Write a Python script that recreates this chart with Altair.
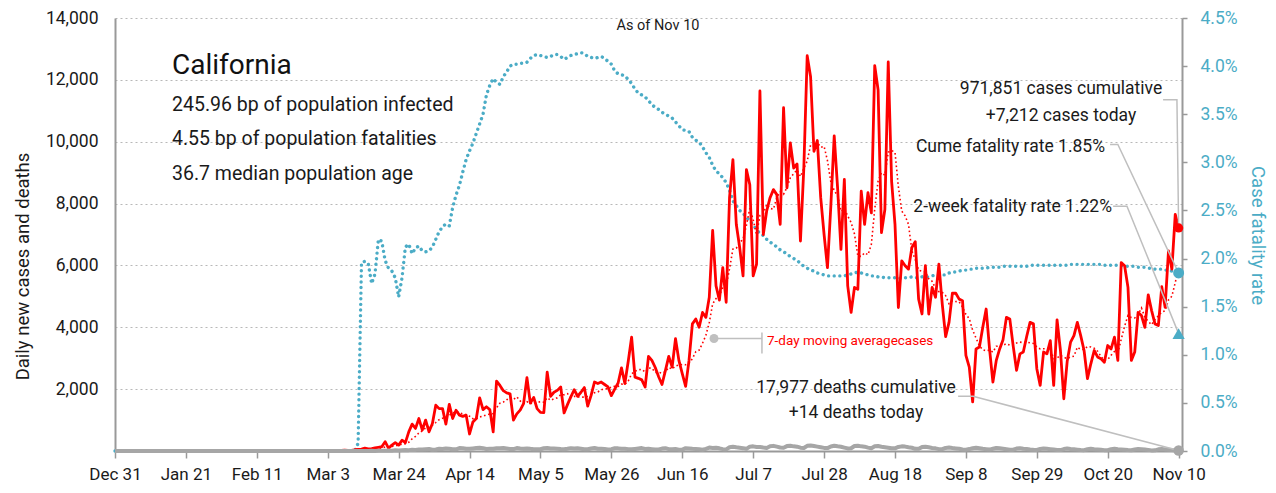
import altair as alt
import pandas as pd

FONT = "Roboto"
RED = "#FF0000"
BLUE = "#4BACC6"
GREY = "#A6A6A6"
INK = "#1a1a1a"

tick_labels = ["Dec 31", "Jan 21", "Feb 11", "Mar 3", "Mar 24", "Apr 14", "May 5", "May 26",
               "Jun 16", "Jul 7", "Jul 28", "Aug 18", "Sep 8", "Sep 29", "Oct 20", "Nov 10"]

# daily new cases, Dec 31 .. Nov 10 (day index 0..315)
cases = [
    0, 0, 0, 0, 0, 0, 0, 0, 0, 0,
    0, 0, 0, 0, 0, 0, 0, 0, 0, 0,
    0, 0, 0, 0, 0, 0, 1, 0, 0, 0,
    0, 1, 0, 3, 0, 0, 0, 0, 0, 0,
    0, 0, 0, 0, 0, 0, 0, 0, 0, 0,
    0, 0, 0, 0, 0, 0, 0, 1, 0, 1,
    3, 2, 10, 5, 11, 18, 13, 20, 24, 19,
    23, 40, 50, 60, 90, 70, 80, 100, 120, 140,
    300, 90, 190, 270, 190, 350, 270, 620, 870, 730,
    1050, 680, 1000, 620, 890, 1480, 1370, 1370, 870, 1510,
    1050, 1320, 1160, 1120, 1160, 550, 940, 1050, 1720, 1340,
    1430, 1340, 620, 2260, 2120, 1950, 1880, 1850, 1000, 1200,
    1320, 1530, 2370, 1550, 1730, 1370, 1250, 1240, 2550, 1770,
    1900, 1960, 2070, 1230, 1500, 1750, 1980, 1770, 1900, 2050,
    1450, 1800, 2230, 2180, 2230, 2150, 2070, 1790, 2000, 2200,
    2690, 2180, 2900, 3680, 2390, 2350, 2300, 2070, 3060, 2930,
    2700, 2400, 2150, 2600, 3060, 2710, 3630, 2930, 2500, 2090,
    2930, 4110, 4270, 4000, 4480, 4320, 4970, 7130, 5340, 4880,
    5930, 4810, 8190, 9420, 7330, 6580, 5660, 9100, 8610, 5660,
    6040, 11640, 7000, 7760, 8190, 8450, 8290, 7330, 11100, 8510,
    9960, 9150, 9280, 6790, 9150, 12780, 12100, 9690, 10040, 8190,
    7000, 5930, 7920, 10190, 8510, 6520, 8780, 5340, 4480, 5290,
    5230, 8400, 7330, 8350, 7700, 12460, 11670, 7060, 7810, 12580,
    8720, 7330, 4640, 6150, 5990, 5880, 6580, 6770, 4910, 4430,
    5990, 4430, 5290, 4970, 6040, 4750, 3700, 4160, 5100, 5100,
    4910, 4860, 3090, 2710, 1590, 3300, 3360, 4000, 4590, 3300,
    2230, 2930, 3300, 3600, 4320, 4270, 3400, 2610, 3140, 3200,
    3700, 4160, 4110, 2660, 2120, 3200, 3140, 3570, 2120, 4240,
    3250, 1690, 2900, 3520, 3730, 4160, 3730, 3250, 2340, 2820,
    3250, 3040, 2980, 2870, 3410, 3300, 3680, 2930, 6090, 5990,
    5290, 2930, 3200, 4480, 4380, 4000, 5050, 4540, 4110, 4060,
    5310, 4650, 6470, 5880, 7650, 7212,
]

# daily new deaths
deaths = [
    0, 0, 0, 0, 0, 0, 0, 0, 0, 0,
    0, 0, 0, 0, 0, 0, 0, 0, 0, 0,
    0, 0, 0, 0, 0, 0, 0, 0, 0, 0,
    0, 0, 0, 0, 0, 0, 0, 0, 0, 0,
    0, 0, 0, 0, 0, 0, 0, 0, 0, 0,
    0, 0, 0, 0, 0, 0, 0, 0, 0, 0,
    0, 0, 0, 0, 1, 0, 0, 0, 1, 0,
    2, 0, 1, 2, 3, 1, 5, 4, 6, 8,
    12, 14, 10, 22, 18, 24, 30, 28, 40, 36,
    52, 45, 58, 68, 40, 50, 70, 62, 80, 74,
    60, 55, 95, 88, 70, 72, 84, 98, 104, 92,
    64, 70, 76, 90, 88, 94, 80, 68, 62, 95,
    80, 72, 84, 70, 60, 55, 58, 90, 96, 78,
    82, 76, 64, 55, 70, 92, 80, 86, 74, 60,
    58, 82, 96, 72, 70, 68, 52, 60, 88, 85,
    70, 76, 60, 55, 68, 80, 94, 66, 72, 60,
    50, 48, 78, 92, 60, 58, 62, 44, 46, 90,
    80, 70, 64, 58, 40, 70, 110, 96, 102, 86,
    60, 52, 120, 135, 118, 104, 92, 70, 140, 150,
    132, 126, 110, 98, 152, 166, 140, 112, 104, 158,
    170, 150, 140, 108, 96, 168, 180, 160, 142, 120,
    100, 94, 148, 170, 152, 138, 110, 84, 90, 160,
    168, 150, 140, 110, 88, 150, 162, 140, 124, 108,
    90, 86, 130, 150, 142, 120, 104, 70, 74, 126,
    140, 120, 98, 86, 60, 58, 100, 112, 96, 84,
    72, 50, 44, 62, 90, 104, 88, 70, 60, 46,
    72, 98, 86, 74, 58, 40, 42, 80, 92, 70,
    66, 50, 38, 36, 68, 84, 72, 60, 48, 34,
    30, 62, 80, 66, 58, 44, 30, 28, 56, 72,
    60, 52, 40, 28, 26, 58, 70, 54, 48, 40,
    30, 24, 50, 66, 58, 46, 36, 20, 22, 54,
    62, 50, 40, 30, 26, 14,
]

# cumulative case fatality rate, %
cfr = [
    0, 0, 0, 0, 0, 0, 0, 0, 0, 0,
    0, 0, 0, 0, 0, 0, 0, 0, 0, 0,
    0, 0, 0, 0, 0, 0, 0, 0, 0, 0,
    0, 0, 0, 0, 0, 0, 0, 0, 0, 0,
    0, 0, 0, 0, 0, 0, 0, 0, 0, 0,
    0, 0, 0, 0, 0, 0, 0, 0, 0, 0,
    0, 0, 0, 0, 0, 0, 0, 0, 0, 0,
    0, 0, 0.08, 1.96, 1.97, 1.95, 1.74, 1.84, 2.20, 2.18,
    1.98, 1.90, 1.87, 1.80, 1.60, 1.80, 2.12, 2.15, 2.05, 2.11,
    2.13, 2.08, 2.07, 2.08, 2.12, 2.20, 2.28, 2.33, 2.36, 2.34,
    2.53, 2.66, 2.76, 2.90, 3.03, 3.12, 3.20, 3.30, 3.40, 3.50,
    3.70, 3.80, 3.87, 3.83, 3.81, 3.89, 3.94, 4.00, 4.02, 4.02,
    4.03, 4.03, 4.04, 4.08, 4.11, 4.12, 4.11, 4.10, 4.09, 4.10,
    4.12, 4.12, 4.10, 4.07, 4.09, 4.11, 4.12, 4.13, 4.14, 4.13,
    4.10, 4.09, 4.08, 4.09, 4.10, 4.08, 4.05, 4.02, 3.95, 3.92,
    3.91, 3.90, 3.86, 3.82, 3.76, 3.72, 3.70, 3.68, 3.64, 3.60,
    3.57, 3.55, 3.52, 3.50, 3.48, 3.46, 3.42, 3.38, 3.34, 3.33,
    3.32, 3.26, 3.23, 3.21, 3.16, 3.10, 3.05, 2.97, 2.91, 2.88,
    2.84, 2.79, 2.71, 2.60, 2.55, 2.50, 2.47, 2.43, 2.39, 2.35,
    2.30, 2.26, 2.24, 2.20, 2.17, 2.15, 2.12, 2.09, 2.07, 2.05,
    2.02, 2.00, 1.98, 1.95, 1.92, 1.90, 1.88, 1.87, 1.85, 1.84,
    1.83, 1.82, 1.82, 1.82, 1.82, 1.82, 1.82, 1.83, 1.84, 1.85,
    1.86, 1.85, 1.84, 1.83, 1.82, 1.82, 1.81, 1.81, 1.80, 1.80,
    1.80, 1.80, 1.79, 1.80, 1.80, 1.80, 1.81, 1.80, 1.80, 1.81,
    1.81, 1.81, 1.82, 1.83, 1.83, 1.83, 1.83, 1.85, 1.86, 1.86,
    1.87, 1.88, 1.88, 1.89, 1.89, 1.90, 1.90, 1.90, 1.90, 1.91,
    1.91, 1.91, 1.91, 1.92, 1.92, 1.92, 1.92, 1.92, 1.92, 1.92,
    1.92, 1.93, 1.93, 1.93, 1.93, 1.93, 1.93, 1.93, 1.93, 1.93,
    1.93, 1.93, 1.93, 1.94, 1.94, 1.94, 1.94, 1.94, 1.94, 1.94,
    1.94, 1.94, 1.94, 1.93, 1.93, 1.93, 1.93, 1.93, 1.93, 1.92,
    1.92, 1.92, 1.92, 1.91, 1.91, 1.91, 1.90, 1.90, 1.89, 1.89,
    1.89, 1.88, 1.88, 1.87, 1.86, 1.85,
]

two_week_cfr = 1.22
cum_cases_text = ["971,851 cases cumulative", "+7,212 cases today"]
cum_deaths_text = ["17,977 deaths cumulative", "+14 deaths today"]
info_lines = ["245.96 bp of population infected", "4.55 bp of population fatalities",
              "36.7 median population age"]

n = len(cases)
assert len(deaths) == n and len(cfr) == n
last = n - 1
df = pd.DataFrame({"d": list(range(n)), "cases": cases, "deaths": deaths, "cfr": cfr})

LEFT_MAX = 14000
RIGHT_MAX = 4.5
PLOT_H = 433


def to_left(rate):
    return rate / RIGHT_MAX * LEFT_MAX


label_js = "[" + ",".join("'%s'" % t for t in tick_labels) + "][round(datum.value/21)]"

X = alt.X("d:Q", title=None,
          scale=alt.Scale(domain=[0, 316], nice=False, zero=False),
          axis=alt.Axis(values=list(range(0, 316, 21)), labelExpr=label_js, grid=False,
                        labelFont=FONT, labelFontSize=17, labelColor=INK,
                        labelFlush=False, labelOverlap=False,
                        tickColor="#999999", tickSize=7, tickWidth=1.5,
                        domainColor="#999999", domainWidth=2, labelPadding=8))

YL = alt.Y("v:Q", title="Daily new cases and deaths",
           scale=alt.Scale(domain=[0, LEFT_MAX], nice=False),
           axis=alt.Axis(orient="left", values=list(range(0, LEFT_MAX + 1, 2000)),
                         labelExpr="datum.value == 0 ? '' : format(datum.value, ',')",
                         grid=True, gridDash=[2, 3], gridColor="#b8b8b8", gridWidth=1,
                         ticks=False, domainColor="#999999", domainWidth=2,
                         labelFlush=False, labelOverlap=False,
                         labelFont=FONT, labelFontSize=17.5, labelColor=INK, labelPadding=17,
                         titleFont=FONT, titleFontSize=18.5, titleFontWeight="normal",
                         titleColor=INK, titleX=-93, titleY=248, titleBaseline="middle",
                         titleAngle=-90))

YR = alt.Y("r:Q", title="Case fatality rate",
           scale=alt.Scale(domain=[0, RIGHT_MAX], nice=False),
           axis=alt.Axis(orient="right", values=[i * 0.5 for i in range(10)],
                         labelExpr="format(datum.value, '.1f') + '%'",
                         grid=False, tickColor="#999999", tickSize=5, tickWidth=1.5,
                         domainColor="#999999", domainWidth=2,
                         labelFlush=False, labelOverlap=False,
                         labelFont=FONT, labelFontSize=17.5, labelColor=BLUE, labelPadding=13,
                         titleFont=FONT, titleFontSize=18.5, titleFontWeight="normal",
                         titleColor=BLUE, titleAngle=90, titleX=75, titleY=217,
                         titleBaseline="middle"))

YR_hidden = alt.Y("r:Q", scale=alt.Scale(domain=[0, RIGHT_MAX], nice=False), axis=None)

base = alt.Chart(df)

cfr_line = base.transform_calculate(r="datum.cfr").mark_line(
    color=BLUE, strokeWidth=3.4, strokeDash=[0.01, 5.6], strokeCap="round"
).encode(x=X, y=YR)

cases_line = base.transform_calculate(v="datum.cases").mark_line(
    color=RED, strokeWidth=2.8, strokeJoin="round"
).encode(x=X, y=YL)

ma_line = base.transform_window(
    ma="mean(cases)", frame=[-6, 0], sort=[alt.SortField("d")]
).transform_calculate(v="datum.ma").mark_line(
    color=RED, strokeWidth=1.6, strokeDash=[1.6, 2.6]
).encode(x=X, y=YL)

deaths_line = base.transform_calculate(v="datum.deaths").mark_line(
    color=GREY, strokeWidth=4, strokeJoin="round"
).encode(x=X, y=YL)

# leader lines (annotation anchors in data units)
lead_rows = []


def lead(g, pts):
    for i, (dd, vv) in enumerate(pts):
        lead_rows.append({"g": g, "o": i, "d": dd, "v": vv})


lead("cases", [(310.4, 11360), (314.5, 11360), (last, cases[-1])])
lead("cume", [(294.7, 9910), (297.0, 9910), (last, to_left(cfr[-1]))])
lead("twoweek", [(295.6, 7917), (299.7, 7917), (last, to_left(two_week_cfr))])
lead("deaths", [(249.7, 1770), (254.1, 1770), (last, deaths[-1])])
lead("ma", [(177.4, 3637), (191.6, 3637)])
lead("matick", [(191.6, 3830), (191.6, 3154)])
leaders = pd.DataFrame(lead_rows)

leader_lines = alt.Chart(leaders).mark_line(color="#BFBFBF", strokeWidth=1.5).encode(
    x=X, y=YL, detail="g:N", order="o:Q")

ma_key_dot = alt.Chart(pd.DataFrame({"d": [177.4], "v": [3637]})).mark_circle(
    color="#BFBFBF", opacity=1, size=80).encode(x=X, y=YL)

end_left = pd.DataFrame({"d": [last, last], "v": [cases[-1], deaths[-1]], "k": ["c", "x"]})
cases_dot = alt.Chart(end_left[end_left.k == "c"]).mark_circle(
    color=RED, opacity=1, size=85).encode(x=X, y=YL)
deaths_dot = alt.Chart(end_left[end_left.k == "x"]).mark_circle(
    color=GREY, opacity=1, size=110).encode(x=X, y=YL)

end_right = pd.DataFrame({"d": [last, last], "r": [cfr[-1], two_week_cfr], "k": ["cum", "tw"]})
cfr_dot = alt.Chart(end_right[end_right.k == "cum"]).mark_circle(
    color=BLUE, opacity=1, size=120).encode(x=X, y=YR_hidden)
tw_tri = alt.Chart(end_right[end_right.k == "tw"]).mark_point(
    shape="triangle-up", filled=True, color=BLUE, opacity=1, size=150).encode(x=X, y=YR_hidden)

one = pd.DataFrame({"k": [0]})


def txt(s, x, y, size, color=INK, align="left"):
    return alt.Chart(one).mark_text(
        text=s, font=FONT, fontSize=size, color=color, align=align, baseline="alphabetic"
    ).encode(x=alt.value(x), y=alt.value(y))


texts = [
    txt("California", 57, 56, 28, "#111111"),
    txt(info_lines[0], 57, 93, 19.5),
    txt(info_lines[1], 57, 127, 19.5),
    txt(info_lines[2], 57, 162, 19.5),
    txt("As of Nov 10", 543, 12, 14.5, align="center"),
    txt(cum_cases_text[0], 946, 76, 17.5, align="center"),
    txt(cum_cases_text[1], 946, 103, 17.5, align="center"),
    txt("Cume fatality rate %.2f%%" % cfr[-1], 990, 134, 17.5, align="right"),
    txt("2-week fatality rate %.2f%%" % two_week_cfr, 997, 194, 17.5, align="right"),
    txt(cum_deaths_text[0], 741, 375, 17.5, align="center"),
    txt(cum_deaths_text[1], 741, 400, 17.5, align="center"),
    txt("7-day moving averagecases", 652, 327, 13.5, RED),
]

left_group = alt.layer(cases_line, ma_line, deaths_line, leader_lines, ma_key_dot,
                       cases_dot, deaths_dot, *texts)
right_marks = alt.layer(cfr_dot, tw_tri)

chart = alt.layer(cfr_line, left_group, right_marks).resolve_scale(y="independent").properties(
    width=1067, height=PLOT_H,
    autosize=alt.AutoSizeParams(type="none"),
    padding={"left": 107, "top": 10, "right": 86, "bottom": 34},
    background="white",
).configure_view(stroke=None)

chart.save("out.html", embed_options={"renderer": "svg", "actions": False})
